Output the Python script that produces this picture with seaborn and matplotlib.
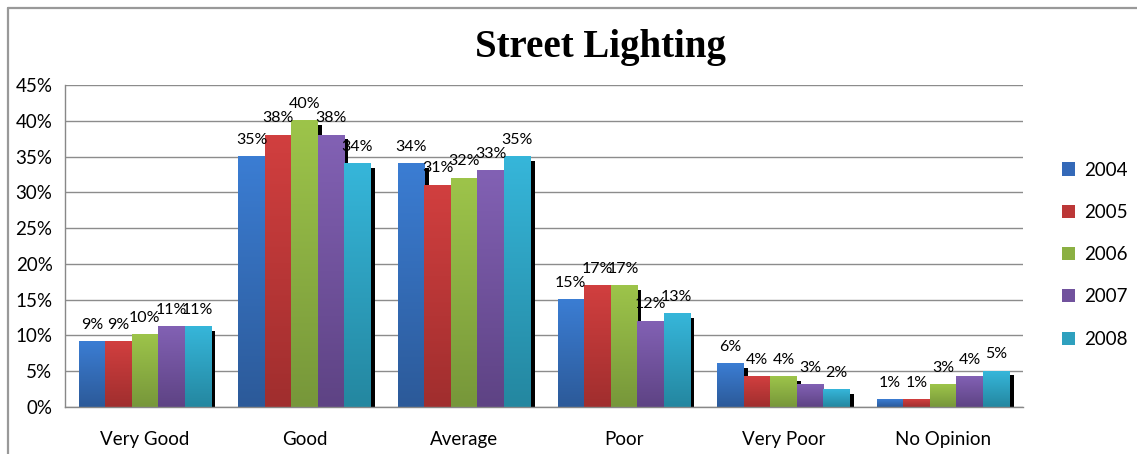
import numpy as np
import pandas as pd
import matplotlib
matplotlib.use("Agg")
import matplotlib.pyplot as plt
import matplotlib.patheffects as pe
from matplotlib.colors import LinearSegmentedColormap
from matplotlib.lines import Line2D
import seaborn as sns

categories = ["Very Good", "Good", "Average", "Poor", "Very Poor", "No Opinion"]
years = ["2004", "2005", "2006", "2007", "2008"]
v2004 = [9.1, 35.0, 34.0, 15.0, 6.1, 1.0]
v2005 = [9.1, 38.0, 31.0, 17.0, 4.2, 1.0]
v2006 = [10.1, 40.0, 32.0, 17.0, 4.2, 3.1]
v2007 = [11.2, 38.0, 33.0, 12.0, 3.1, 4.2]
v2008 = [11.2, 34.0, 35.0, 13.0, 2.4, 5.0]
yticks = [0, 5, 10, 15, 20, 25, 30, 35, 40, 45]

top_colors = ["#3B7DD3", "#D13F3F", "#9DC44A", "#8261B4", "#36B6DA"]
bot_colors = ["#2C5A99", "#A02E2E", "#77973A", "#5E4384", "#2487A0"]
mid_colors = ["#3469B8", "#BC3737", "#8BB043", "#71529D", "#2EA0BE"]

rows = []
for y, vals in zip(years, [v2004, v2005, v2006, v2007, v2008]):
    for c, v in zip(categories, vals):
        rows.append({"category": c, "year": y, "value": v})
df = pd.DataFrame(rows)

sns.set_theme(style="white")
plt.rcParams["font.family"] = ["Lato", "DejaVu Sans"]
plt.rcParams["text.color"] = "black"

fig = plt.figure(figsize=(11.37, 4.54), dpi=100)
ax = fig.add_axes([65 / 1137, 1 - 407 / 454, (1023 - 65) / 1137, (407 - 85) / 454])

sns.barplot(data=df, x="category", y="value", hue="year", order=categories,
            hue_order=years, palette=mid_colors, saturation=1, width=0.83,
            linewidth=0, ax=ax, zorder=2)

ax.set_ylim(0, 45)
xlim = (-0.5, len(categories) - 0.5)
ax.set_xlim(*xlim)
ax.set_axisbelow(True)

# shadows + gradients
for i, cont in enumerate(ax.containers):
    cmap = LinearSegmentedColormap.from_list("g", [bot_colors[i], top_colors[i]])
    for bar in cont:
        bar.set_path_effects([pe.SimplePatchShadow(offset=(3, -3), shadow_rgbFace="black", alpha=1.0),
                              pe.Normal()])
        x0, w, h = bar.get_x(), bar.get_width(), bar.get_height()
        grad = np.linspace(0, 1, 100).reshape(-1, 1)
        ax.imshow(grad, extent=[x0, x0 + w, 0, h], origin="lower", aspect="auto",
                  cmap=cmap, zorder=2.5, interpolation="bilinear")
    ax.bar_label(cont, labels=[f"{round(v)}%" for v in cont.datavalues],
                 padding=7, fontsize=11.5, color="black", zorder=4)

ax.set_xlim(*xlim)
ax.set_ylim(0, 45)
ax.set_aspect("auto")

ax.set_yticks(yticks)
ax.set_yticklabels([f"{t}%" for t in yticks], fontsize=13.5)
ax.set_xticks(range(len(categories)))
ax.set_xticklabels(categories, fontsize=13.5)
ax.set_xticks(np.arange(-0.5, len(categories)), minor=True)
ax.tick_params(axis="x", which="major", length=0, pad=17, labelcolor="black")
ax.tick_params(axis="x", which="minor", length=5, width=1, color="#888888", direction="out")
ax.tick_params(axis="y", length=5, width=1, color="#888888", direction="out", pad=4, labelcolor="black")
ax.yaxis.grid(True, color="#8c8c8c", linewidth=1)
ax.set_xlabel("")
ax.set_ylabel("")
for s in ["top", "right"]:
    ax.spines[s].set_visible(False)
for s in ["left", "bottom"]:
    ax.spines[s].set_color("#888888")
    ax.spines[s].set_linewidth(1)
    ax.spines[s].set_zorder(5)

# legend
handles = [plt.Rectangle((0, 0), 1, 1, facecolor=c, edgecolor="none") for c in mid_colors]
fig.legend(handles, years, loc="upper left", bbox_to_anchor=(1054 / 1137, 1 - 154 / 454),
           frameon=False, fontsize=13.5, handlelength=0.7, handleheight=0.7,
           handletextpad=0.5, labelspacing=1.35, borderaxespad=0, labelcolor="black")
if ax.get_legend() is not None:
    ax.get_legend().remove()

fig.text(600 / 1137, 1 - 47 / 454, "Street Lighting", ha="center", va="center",
         fontsize=28, fontweight="bold", family="Liberation Serif", color="black")

# outer frame (top and left)
W, H = 1137, 454
fig.add_artist(Line2D([8 / W, 8 / W], [1 - 8 / H, 0], transform=fig.transFigure,
                      color="#999999", linewidth=1.6))
fig.add_artist(Line2D([8 / W, 1], [1 - 8 / H, 1 - 8 / H], transform=fig.transFigure,
                      color="#999999", linewidth=1.6))

fig.savefig("out.png", dpi=100)
